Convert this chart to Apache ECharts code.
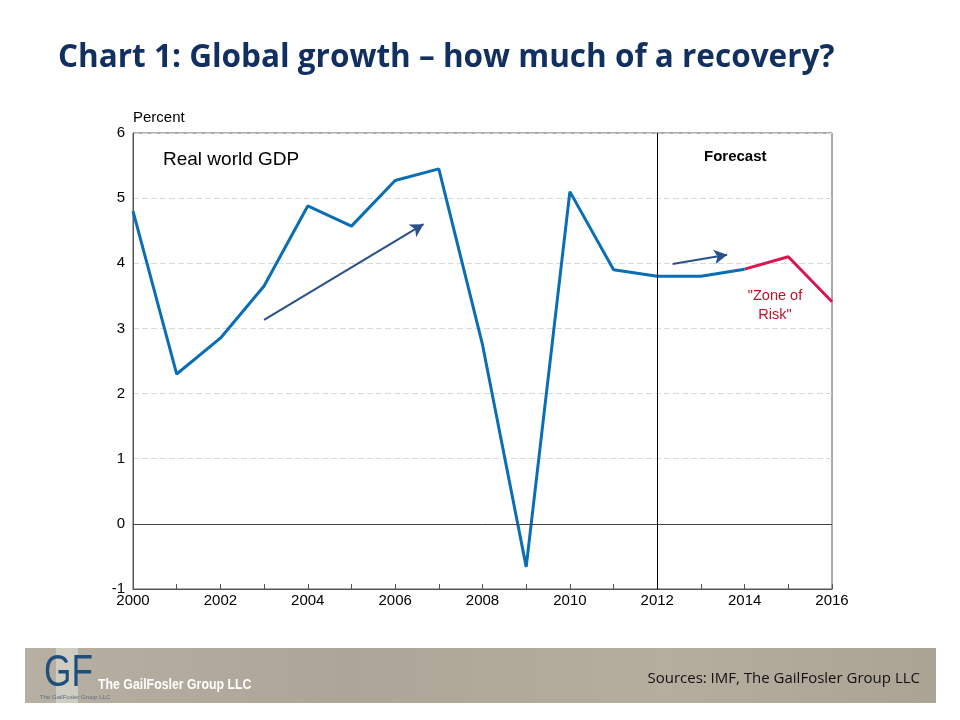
<!DOCTYPE html>
<html><head><meta charset="utf-8">
<script src="https://cdn.jsdelivr.net/npm/echarts@6/dist/echarts.min.js"></script>
<style>html,body{margin:0;padding:0;background:#fff}#c{width:960px;height:720px}</style>
</head><body><div id="c"></div>
<script>
const years = [2000,2001,2002,2003,2004,2005,2006,2007,2008,2009,2010,2011,2012,2013,2014,2015,2016];
const growth = [4.8,2.3,2.85,3.65,4.88,4.57,5.27,5.45,2.75,-0.66,5.1,3.9,3.8,3.8,3.91,4.1,3.41];
const forecastStartYear = 2014;
const forecastLineYear = 2012;
const yTicks = [-1,0,1,2,3,4,5,6];
const arrow1 = [[2003, 3.13],[2006.65, 4.6]];
const arrow2 = [[2012.35, 3.99],[2013.6, 4.13]];

const histData = [], riskData = [];
years.forEach((y,i)=>{ if(y<=forecastStartYear) histData.push([y,growth[i]]); if(y>=forecastStartYear) riskData.push([y,growth[i]]); });

const chart = echarts.init(document.getElementById('c'));
const arrowStyle = {color:'#2A4F8A', width:2, type:'solid'};
chart.setOption({
  animation:false,
  backgroundColor:'#fff',
  grid:{left:133,right:128,top:133,bottom:131,show:true,borderColor:'#555',borderWidth:1},
  xAxis:{type:'value',min:2000,max:2016,interval:1,
    axisLine:{show:true,onZero:false,lineStyle:{color:'#555'}},
    axisTick:{show:true,inside:true,length:5,lineStyle:{color:'#555'}},
    axisLabel:{formatter:v=> (v%2===0? String(v):''),color:'#000',fontFamily:'Liberation Sans',fontSize:15,margin:4,showMaxLabel:true,showMinLabel:true},
    splitLine:{show:false}},
  yAxis:{type:'value',min:yTicks[0],max:yTicks[yTicks.length-1],interval:1,
    name:'Percent',nameLocation:'end',nameGap:8,
    nameTextStyle:{color:'#000',fontFamily:'Liberation Sans',fontSize:15,align:'left',padding:[0,0,0,0]},
    axisLine:{show:true,onZero:false,lineStyle:{color:'#555'}},
    axisTick:{show:false},
    axisLabel:{color:'#000',fontFamily:'Liberation Sans',fontSize:15,margin:8},
    splitLine:{show:true,lineStyle:{color:'#d9d9d9',type:[6,3],width:1}}},
  series:[
    {type:'line',data:histData,symbol:'none',lineStyle:{color:'#0A6EB4',width:3},z:3,
      markLine:{silent:true,symbol:'none',label:{show:false},animation:false,
        data:[
          {yAxis:0,lineStyle:{color:'#444',width:1,type:'solid'}},
          {xAxis:forecastLineYear,lineStyle:{color:'#000',width:1,type:'solid'}}
        ]}},
    {type:'line',data:riskData,symbol:'none',lineStyle:{color:'#D9164F',width:3},z:4,
      markLine:{silent:true,symbol:['none','arrow'],symbolSize:[11,13],label:{show:false},animation:false,
        data:[
          [{coord:arrow1[0],lineStyle:arrowStyle},{coord:arrow1[1]}],
          [{coord:arrow2[0],lineStyle:arrowStyle},{coord:arrow2[1]}]
        ]}}
  ],
  graphic:[
    {type:'text',left:58,top:42,style:{text:'Chart 1: Global growth \u2013 how much of a recovery?',fill:'#112F5F',font:'bold 31.5px "Open Sans"'}},
    {type:'text',left:163,top:150,style:{text:'Real world GDP',fill:'#000',font:'19px "Liberation Sans"'}},
    {type:'text',left:704,top:149,style:{text:'Forecast',fill:'#000',font:'bold 15px "Liberation Sans"'}},
    {type:'text',x:775,y:286,style:{text:'"Zone of\nRisk"',fill:'#C0102A',font:'14.5px "Liberation Sans"',align:'center',lineHeight:19}},
    {type:'rect',shape:{x:25,y:648,width:911,height:55},style:{fill:new echarts.graphic.LinearGradient(0,0,1,0,[{offset:0,color:'#B7AFA1'},{offset:0.35,color:'#ADA698'},{offset:0.7,color:'#B5AE9F'},{offset:1,color:'#ABA495'}])}},
    {type:'rect',shape:{x:56,y:648,width:22,height:55},style:{fill:'#D6D3CB',opacity:0.8}},
    {type:'text',x:44,y:652,scaleX:0.8,style:{text:'GF',fill:'#1E4E7C',font:'44px "Liberation Sans"'}},
    {type:'text',left:40,top:694,style:{text:'The GailFosler Group LLC',fill:'#5C6E8A',font:'6px "Liberation Sans"'}},
    {type:'text',x:98,y:678,scaleX:0.88,style:{text:'The GailFosler Group LLC',fill:'#fff',font:'bold 14px "Liberation Sans"'}},
    {type:'text',right:40,top:671,style:{text:'Sources: IMF, The GailFosler Group LLC',fill:'#111',font:'15px "Open Sans"'}}
  ]
});
</script></body></html>
